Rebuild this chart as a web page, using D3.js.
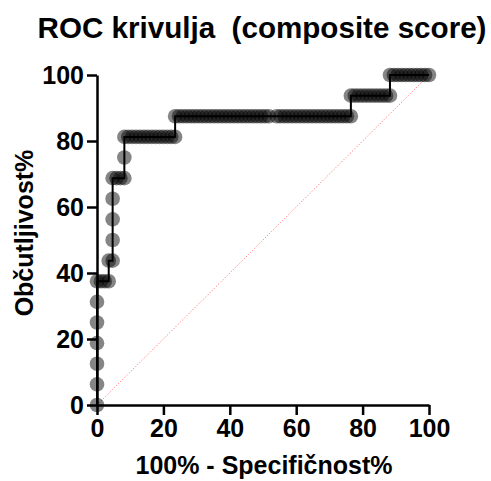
<!DOCTYPE html>
<html>
<head>
<meta charset="utf-8">
<script src="https://cdn.jsdelivr.net/npm/d3@7/dist/d3.min.js"></script>
<style>
  html, body { margin: 0; padding: 0; background: #fff; }
  svg { display: block; }
  text { font-family: "Liberation Sans", Arial, sans-serif; font-weight: bold; fill: #000; }
</style>
</head>
<body>
<svg id="chart" width="491" height="481"></svg>
<script>
// ---- Data ----
const title = "ROC krivulja  (composite score)";
const xTitle = "100% - Specifičnost%";
const yTitle = "Občutljivost%";
const xTicks = [0, 20, 40, 60, 80, 100];
const yTicks = [0, 20, 40, 60, 80, 100];

// Sensitivity levels (%) and the 100% - specificity values (%) observed at each level
const sensitivityLevels = [0, 6.25, 12.5, 18.75, 25, 31.25, 37.5, 43.75, 50, 56.25, 62.5, 68.75, 75, 81.25, 87.5, 93.75, 100];
const fprAtLevel = [
  [0],
  [0],
  [0],
  [0],
  [0],
  [0],
  [0, 1.18, 2.35, 3.53],
  [3.53, 4.71],
  [4.71],
  [4.71],
  [4.71],
  [4.71, 5.88, 7.06, 8.24],
  [8.24],
  [8.24, 9.41, 10.59, 11.76, 12.94, 14.12, 15.29, 16.47, 17.65, 18.82, 20.00, 21.18, 22.35, 23.53],
  [23.53, 24.71, 25.88, 27.06, 28.24, 29.41, 30.59, 31.76, 32.94, 34.12, 35.29, 36.47, 37.65, 38.82,
   40.00, 41.18, 42.35, 43.53, 44.71, 45.88, 47.06, 48.24, 49.41, 50.59, 51.76, 54.12, 55.29, 56.47,
   57.65, 58.82, 60.00, 61.18, 62.35, 63.53, 64.71, 65.88, 67.06, 68.24, 69.41, 70.59, 71.76, 72.94,
   74.12, 75.29, 76.47],
  [76.47, 77.65, 78.82, 80.00, 81.18, 82.35, 83.53, 84.71, 85.88, 87.06, 88.24],
  [88.24, 89.41, 90.59, 91.76, 92.94, 94.12, 95.29, 96.47, 97.65, 98.82, 100]
];
const chanceLine = [[0, 0], [100, 100]];

// ---- Build points ----
const points = [];
sensitivityLevels.forEach((s, i) => {
  fprAtLevel[i].forEach(f => points.push({ x: f, y: s }));
});

// ---- Layout ----
const svg = d3.select("#chart");
const x = d3.scaleLinear().domain([0, 100]).range([97, 429]);
const y = d3.scaleLinear().domain([0, 100]).range([405, 75]);

// Title
svg.append("text")
  .attr("x", 262).attr("y", 38)
  .attr("text-anchor", "middle")
  .style("font-size", "29.6px")
  .style("white-space", "pre")
  .attr("xml:space", "preserve")
  .text(title);

// Chance diagonal
svg.append("path")
  .datum(chanceLine)
  .attr("d", d3.line().x(d => x(d[0])).y(d => y(d[1])))
  .attr("fill", "none")
  .attr("stroke", "#ff3b3b")
  .attr("stroke-width", 1)
  .attr("stroke-dasharray", "1,2")
  .attr("opacity", 0.8);

// Step line
svg.append("path")
  .datum(points)
  .attr("d", d3.line().x(d => x(d.x)).y(d => y(d.y)))
  .attr("fill", "none")
  .attr("stroke", "#000")
  .attr("stroke-width", 2);

// Points
svg.append("g")
  .selectAll("circle")
  .data(points)
  .join("circle")
  .attr("cx", d => x(d.x))
  .attr("cy", d => y(d.y))
  .attr("r", 7.3)
  .attr("fill", "#000")
  .attr("fill-opacity", 0.48);

// Axes
const xAxis = svg.append("g")
  .attr("transform", "translate(0,405)")
  .call(d3.axisBottom(x).tickValues(xTicks).tickSize(10).tickPadding(4).tickSizeOuter(0));
const yAxis = svg.append("g")
  .attr("transform", "translate(97,0)")
  .call(d3.axisLeft(y).tickValues(yTicks).tickSize(10).tickPadding(3).tickSizeOuter(0));

[xAxis, yAxis].forEach(g => {
  g.select(".domain").attr("stroke", "#000").attr("stroke-width", 2.5);
  g.selectAll(".tick line").attr("stroke", "#000").attr("stroke-width", 2.5);
  g.selectAll(".tick text")
    .style("font-family", "'Liberation Sans', Arial, sans-serif")
    .style("font-weight", "bold")
    .style("font-size", "25px")
    .attr("fill", "#000");
});

// Axis titles
svg.append("text")
  .attr("x", 264).attr("y", 474)
  .attr("text-anchor", "middle")
  .style("font-size", "25px")
  .text(xTitle);

svg.append("text")
  .attr("transform", "translate(33,233) rotate(-90)")
  .attr("text-anchor", "middle")
  .style("font-size", "25px")
  .text(yTitle);
</script>
</body>
</html>
